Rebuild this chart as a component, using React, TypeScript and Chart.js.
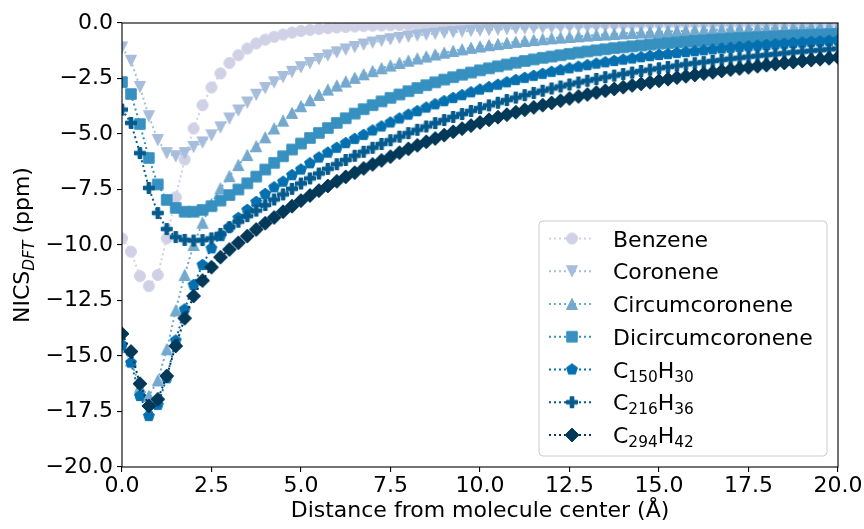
import React, { useEffect, useRef } from "react";
import { Chart, registerables } from "chart.js";
Chart.register(...registerables);

const FONT = '"DejaVu Sans", "Liberation Sans", sans-serif';

// Distance from molecule center (Å)
const distances = [
  0, 0.25, 0.5, 0.75, 1, 1.25, 1.5, 1.75, 2, 2.25, 2.5,
  2.75, 3, 3.25, 3.5, 3.75, 4, 4.25, 4.5, 4.75, 5,
  5.25, 5.5, 5.75, 6, 6.25, 6.5, 6.75, 7, 7.25, 7.5,
  7.75, 8, 8.25, 8.5, 8.75, 9, 9.25, 9.5, 9.75, 10,
  10.25, 10.5, 10.75, 11, 11.25, 11.5, 11.75, 12, 12.25, 12.5,
  12.75, 13, 13.25, 13.5, 13.75, 14, 14.25, 14.5, 14.75, 15,
  15.25, 15.5, 15.75, 16, 16.25, 16.5, 16.75, 17, 17.25, 17.5,
  17.75, 18, 18.25, 18.5, 18.75, 19, 19.25, 19.5, 19.75, 20,
];

const benzene = [
  -9.7, -10.3, -11.4, -11.85, -11.35, -9.7, -7.85, -6.15, -4.75, -3.7, -2.9,
  -2.27, -1.8, -1.45, -1.15, -0.92, -0.75, -0.62, -0.52, -0.43, -0.36,
  -0.31, -0.27, -0.23, -0.2, -0.18, -0.16, -0.14, -0.12, -0.11, -0.1,
  -0.09, -0.08, -0.07, -0.07, -0.06, -0.06, -0.05, -0.05, -0.04, -0.04,
  -0.04, -0.04, -0.03, -0.03, -0.03, -0.03, -0.03, -0.02, -0.02, -0.02,
  -0.02, -0.02, -0.02, -0.02, -0.02, -0.02, -0.02, -0.01, -0.01, -0.01,
  -0.01, -0.01, -0.01, -0.01, -0.01, -0.01, -0.01, -0.01, -0.01, -0.01,
  -0.01, -0.01, -0.01, -0.01, -0.01, -0.01, -0.01, -0.01, -0.01, -0.01,
];

const coronene = [
  -1.1, -1.7, -2.88, -4.2, -5.27, -5.86, -6.0, -5.86, -5.58, -5.38, -5.06,
  -4.7, -4.3, -3.94, -3.58, -3.23, -2.93, -2.67, -2.43, -2.2, -1.99,
  -1.8, -1.62, -1.46, -1.32, -1.19, -1.08, -0.97, -0.88, -0.8, -0.73,
  -0.67, -0.61, -0.56, -0.52, -0.48, -0.44, -0.41, -0.38, -0.35, -0.33,
  -0.31, -0.29, -0.27, -0.25, -0.24, -0.22, -0.21, -0.2, -0.19, -0.18,
  -0.17, -0.16, -0.15, -0.14, -0.14, -0.13, -0.12, -0.12, -0.11, -0.11,
  -0.1, -0.1, -0.09, -0.09, -0.09, -0.08, -0.08, -0.08, -0.07, -0.07,
  -0.07, -0.07, -0.06, -0.06, -0.06, -0.06, -0.05, -0.05, -0.05, -0.05,
];

const circumcoronene = [
  -14.6, -15.2, -16.4, -16.8, -16.1, -14.7, -12.95, -11.35, -10.0, -9.0, -8.15,
  -7.45, -6.9, -6.4, -5.95, -5.55, -5.15, -4.75, -4.4, -4.05, -3.75,
  -3.48, -3.24, -3.0, -2.82, -2.64, -2.47, -2.31, -2.17, -2.04, -1.92,
  -1.8, -1.7, -1.6, -1.51, -1.42, -1.34, -1.26, -1.19, -1.12, -1.06,
  -1.0, -0.95, -0.9, -0.85, -0.81, -0.77, -0.73, -0.69, -0.66, -0.63,
  -0.6, -0.57, -0.54, -0.52, -0.5, -0.47, -0.45, -0.43, -0.42, -0.4,
  -0.38, -0.37, -0.35, -0.34, -0.33, -0.31, -0.3, -0.29, -0.28, -0.27,
  -0.26, -0.25, -0.24, -0.24, -0.23, -0.22, -0.21, -0.21, -0.2, -0.2,
];

const dicircumcoronene = [
  -2.66, -3.2, -4.55, -6.08, -7.27, -7.97, -8.33, -8.5, -8.5, -8.42, -8.25,
  -8.0, -7.75, -7.5, -7.22, -6.92, -6.6, -6.3, -6.0, -5.7, -5.43,
  -5.18, -4.95, -4.73, -4.5, -4.29, -4.08, -3.88, -3.7, -3.53, -3.37,
  -3.22, -3.07, -2.93, -2.8, -2.67, -2.55, -2.44, -2.33, -2.23, -2.13,
  -2.04, -1.95, -1.87, -1.79, -1.71, -1.64, -1.57, -1.51, -1.45, -1.39,
  -1.33, -1.28, -1.23, -1.18, -1.13, -1.09, -1.05, -1.01, -0.97, -0.93,
  -0.9, -0.87, -0.84, -0.81, -0.78, -0.75, -0.73, -0.7, -0.68, -0.66,
  -0.64, -0.62, -0.6, -0.58, -0.56, -0.55, -0.53, -0.52, -0.5, -0.49,
];

const c150h30 = [
  -14.5, -15.3, -16.8, -17.7, -17.2, -16.0, -14.3, -12.9, -11.8, -10.9, -10.15,
  -9.6, -9.2, -8.78, -8.42, -8.06, -7.7, -7.4, -7.15, -6.85, -6.6,
  -6.32, -6.06, -5.84, -5.62, -5.41, -5.22, -5.04, -4.84, -4.66, -4.48,
  -4.3, -4.13, -3.97, -3.81, -3.66, -3.52, -3.38, -3.25, -3.12, -3.0,
  -2.89, -2.78, -2.67, -2.57, -2.47, -2.38, -2.29, -2.2, -2.12, -2.04,
  -1.97, -1.9, -1.83, -1.77, -1.71, -1.65, -1.6, -1.54, -1.49, -1.44,
  -1.4, -1.35, -1.31, -1.27, -1.23, -1.19, -1.15, -1.12, -1.08, -1.05,
  -1.02, -0.99, -0.96, -0.93, -0.9, -0.88, -0.85, -0.83, -0.8, -0.78,
];

const c216h36 = [
  -3.9, -4.5, -5.86, -7.43, -8.56, -9.28, -9.64, -9.77, -9.8, -9.78, -9.7,
  -9.5, -9.2, -8.95, -8.7, -8.45, -8.2, -7.95, -7.72, -7.47, -7.23,
  -7.0, -6.78, -6.57, -6.36, -6.17, -5.98, -5.8, -5.62, -5.45, -5.28,
  -5.12, -4.96, -4.81, -4.66, -4.51, -4.37, -4.23, -4.1, -3.96, -3.83,
  -3.71, -3.59, -3.47, -3.36, -3.25, -3.15, -3.05, -2.95, -2.86, -2.77,
  -2.68, -2.6, -2.52, -2.44, -2.37, -2.3, -2.23, -2.16, -2.1, -2.04,
  -1.98, -1.92, -1.86, -1.81, -1.76, -1.71, -1.66, -1.61, -1.57, -1.52,
  -1.48, -1.44, -1.4, -1.36, -1.32, -1.29, -1.25, -1.22, -1.18, -1.15,
];

const c294h42 = [
  -14.0, -14.8, -16.25, -17.25, -16.95, -15.9, -14.55, -13.3, -12.3, -11.6, -11.0,
  -10.55, -10.2, -9.9, -9.6, -9.3, -9.02, -8.76, -8.5, -8.25, -8.0,
  -7.77, -7.55, -7.34, -7.13, -6.93, -6.74, -6.55, -6.37, -6.19, -6.02,
  -5.84, -5.67, -5.51, -5.35, -5.2, -5.05, -4.9, -4.76, -4.62, -4.48,
  -4.36, -4.24, -4.13, -4.02, -3.91, -3.8, -3.7, -3.6, -3.5, -3.4,
  -3.31, -3.22, -3.13, -3.05, -2.97, -2.89, -2.81, -2.74, -2.67, -2.6,
  -2.53, -2.46, -2.4, -2.34, -2.28, -2.22, -2.16, -2.1, -2.05, -2.0,
  -1.95, -1.9, -1.85, -1.8, -1.76, -1.71, -1.67, -1.63, -1.59, -1.55,
];

const seriesNames = [
  "Benzene",
  "Coronene",
  "Circumcoronene",
  "Dicircumcoronene",
  "C150H30",
  "C216H36",
  "C294H42",
];
const seriesValues = [benzene, coronene, circumcoronene, dicircumcoronene, c150h30, c216h36, c294h42];
const seriesColors = ["#d0d1e6", "#a6bddb", "#74a9cf", "#3690c0", "#0570b0", "#045a8d", "#023858"];
type Shape = "circle" | "triDown" | "triUp" | "square" | "pentagon" | "plus" | "diamond";
const seriesShapes: Shape[] = ["circle", "triDown", "triUp", "square", "pentagon", "plus", "diamond"];

const xTickStep = 2.5;
const yTickStep = 2.5;

const MARKER_SIZE: Record<Shape, number> = {
  circle: 11,
  triDown: 11,
  triUp: 11,
  square: 10.5,
  pentagon: 11.5,
  plus: 11,
  diamond: 9.8,
};

function makeMarker(shape: Shape, color: string): HTMLCanvasElement {
  const ms = MARKER_SIZE[shape];
  const c = document.createElement("canvas");
  c.width = 24;
  c.height = 24;
  const ctx = c.getContext("2d")!;
  const h = ms / 2;
  ctx.translate(12, 12);
  ctx.beginPath();
  if (shape === "circle") {
    ctx.arc(0, 0, h, 0, Math.PI * 2);
  } else if (shape === "triDown") {
    ctx.moveTo(0, h);
    ctx.lineTo(-h, -h);
    ctx.lineTo(h, -h);
    ctx.closePath();
  } else if (shape === "triUp") {
    ctx.moveTo(0, -h);
    ctx.lineTo(-h, h);
    ctx.lineTo(h, h);
    ctx.closePath();
  } else if (shape === "square") {
    ctx.rect(-h, -h, ms, ms);
  } else if (shape === "pentagon") {
    for (let k = 0; k < 5; k++) {
      const a = -Math.PI / 2 + (k * 2 * Math.PI) / 5;
      const px = h * Math.cos(a);
      const py = h * Math.sin(a);
      if (k === 0) ctx.moveTo(px, py);
      else ctx.lineTo(px, py);
    }
    ctx.closePath();
  } else if (shape === "plus") {
    const t = ms / 6;
    const pts = [
      [-t, -3 * t], [t, -3 * t], [t, -t], [3 * t, -t], [3 * t, t], [t, t],
      [t, 3 * t], [-t, 3 * t], [-t, t], [-3 * t, t], [-3 * t, -t], [-t, -t],
    ];
    pts.forEach(([px, py], i) => (i === 0 ? ctx.moveTo(px, py) : ctx.lineTo(px, py)));
    ctx.closePath();
  } else if (shape === "diamond") {
    const d = h * Math.SQRT2;
    ctx.moveTo(0, -d);
    ctx.lineTo(d, 0);
    ctx.lineTo(0, d);
    ctx.lineTo(-d, 0);
    ctx.closePath();
  }
  ctx.fillStyle = color;
  ctx.fill();
  ctx.lineWidth = 1;
  ctx.strokeStyle = color;
  ctx.stroke();
  return c;
}

type Part = { t: string; size: number; italic?: boolean; dy?: number };

function partsWidth(ctx: CanvasRenderingContext2D, parts: Part[]) {
  let w = 0;
  for (const p of parts) {
    ctx.font = `${p.italic ? "italic " : ""}${p.size}px ${FONT}`;
    w += ctx.measureText(p.t).width;
  }
  return w;
}

function drawParts(ctx: CanvasRenderingContext2D, parts: Part[], x: number, y: number) {
  let cx = x;
  for (const p of parts) {
    ctx.font = `${p.italic ? "italic " : ""}${p.size}px ${FONT}`;
    ctx.fillText(p.t, cx, y + (p.dy || 0));
    cx += ctx.measureText(p.t).width;
  }
}

function labelParts(name: string): Part[] {
  if (!/^C\d/.test(name)) return [{ t: name, size: 22 }];
  const out: Part[] = [];
  const re = /([A-Z]+)(\d*)/g;
  let m: RegExpExecArray | null;
  while ((m = re.exec(name))) {
    out.push({ t: m[1], size: 22 });
    if (m[2]) out.push({ t: m[2], size: 15.4, dy: 4 });
  }
  return out;
}

export default function App() {
  const ref = useRef<HTMLCanvasElement>(null);

  useEffect(() => {
    const canvas = ref.current!;
    const markers = seriesShapes.map((s, i) => makeMarker(s, seriesColors[i]));

    const overlay = {
      id: "overlay",
      afterDatasetsDraw(chart: any) {
        const { ctx, chartArea: a } = chart;
        ctx.save();
        ctx.strokeStyle = "#000";
        ctx.lineWidth = 1.1;
        ctx.strokeRect(a.left, a.top, a.right - a.left, a.bottom - a.top);
        ctx.restore();
      },
      afterDraw(chart: any) {
        const ctx: CanvasRenderingContext2D = chart.ctx;
        const a = chart.chartArea;
        // y-axis title
        ctx.save();
        ctx.fillStyle = "#000";
        ctx.textBaseline = "alphabetic";
        const yParts: Part[] = [
          { t: "NICS", size: 22 },
          { t: "DFT", size: 15.4, italic: true, dy: 4.5 },
          { t: " (ppm)", size: 22 },
        ];
        const w = partsWidth(ctx, yParts);
        ctx.translate(29, (a.top + a.bottom) / 2);
        ctx.rotate(-Math.PI / 2);
        drawParts(ctx, yParts, -w / 2, 0);
        ctx.restore();

        // legend
        ctx.save();
        const bx = 539, by = 221, bw = 288, bh = 235, r = 4;
        ctx.beginPath();
        ctx.moveTo(bx + r, by);
        ctx.arcTo(bx + bw, by, bx + bw, by + bh, r);
        ctx.arcTo(bx + bw, by + bh, bx, by + bh, r);
        ctx.arcTo(bx, by + bh, bx, by, r);
        ctx.arcTo(bx, by, bx + bw, by, r);
        ctx.closePath();
        ctx.fillStyle = "rgba(255,255,255,0.8)";
        ctx.fill();
        ctx.strokeStyle = "#cccccc";
        ctx.lineWidth = 1;
        ctx.stroke();
        const rowY0 = 238.5, rowDy = 32.75;
        seriesNames.forEach((name, i) => {
          const yc = rowY0 + i * rowDy;
          ctx.save();
          ctx.strokeStyle = seriesColors[i];
          ctx.lineWidth = 2;
          ctx.setLineDash([2, 3]);
          ctx.beginPath();
          ctx.moveTo(549, yc);
          ctx.lineTo(594, yc);
          ctx.stroke();
          ctx.restore();
          const m = markers[i];
          ctx.drawImage(m, 572 - m.width / 2, yc - m.height / 2);
          ctx.fillStyle = "#000";
          ctx.textBaseline = "alphabetic";
          drawParts(ctx, labelParts(name), 613, yc + 8);
        });
        ctx.restore();
      },
    };

    const chart = new Chart(canvas, {
      type: "line",
      data: {
        labels: distances,
        datasets: seriesNames.map((name, i) => ({
          label: name,
          data: distances.map((x, j) => ({ x, y: seriesValues[i][j] })),
          borderColor: seriesColors[i],
          backgroundColor: seriesColors[i],
          borderWidth: 2,
          borderDash: [2, 3],
          pointStyle: markers[i] as any,
          pointRadius: 5,
          pointHoverRadius: 5,
          fill: false,
          tension: 0,
          order: seriesNames.length - i,
        })),
      },
      options: {
        responsive: false,
        animation: false,
        devicePixelRatio: 1,
        layout: { padding: { left: 0, top: 23, right: 26, bottom: 0 } },
        plugins: { legend: { display: false }, tooltip: { enabled: false } },
        events: [],
        scales: {
          x: {
            type: "linear",
            min: 0,
            max: 20,
            border: { display: false },
            grid: { drawOnChartArea: false, drawTicks: true, tickLength: 5, color: "#000", lineWidth: 1.1 },
            ticks: {
              stepSize: xTickStep,
              color: "#000",
              font: { family: FONT, size: 22 },
              padding: 1,
              maxRotation: 0,
              autoSkip: false,
              callback: (v: any) => Number(v).toFixed(1),
            },
            title: {
              display: true,
              text: "Distance from molecule center (Å)",
              color: "#000",
              font: { family: FONT, size: 22 },
              padding: { top: 0, bottom: 5 },
            },
            afterFit: (s: any) => {
              s.height = 62;
            },
          },
          y: {
            type: "linear",
            min: -20,
            max: 0,
            border: { display: false },
            grid: { drawOnChartArea: false, drawTicks: true, tickLength: 5, color: "#000", lineWidth: 1.1 },
            ticks: {
              stepSize: yTickStep,
              color: "#000",
              font: { family: FONT, size: 22 },
              padding: 4,
              autoSkip: false,
              callback: (v: any) => (Number(v) < 0 ? "\u2212" : "") + Math.abs(Number(v)).toFixed(1),
            },
            afterFit: (s: any) => {
              s.width = 122;
            },
          },
        },
      },
      plugins: [overlay],
    } as any);

    return () => chart.destroy();
  }, []);

  return (
    <div style={{ position: "fixed", left: 0, top: 0, width: 864, height: 529, background: "#fff" }}>
      <canvas ref={ref} width={864} height={529} style={{ display: "block" }} />
    </div>
  );
}
